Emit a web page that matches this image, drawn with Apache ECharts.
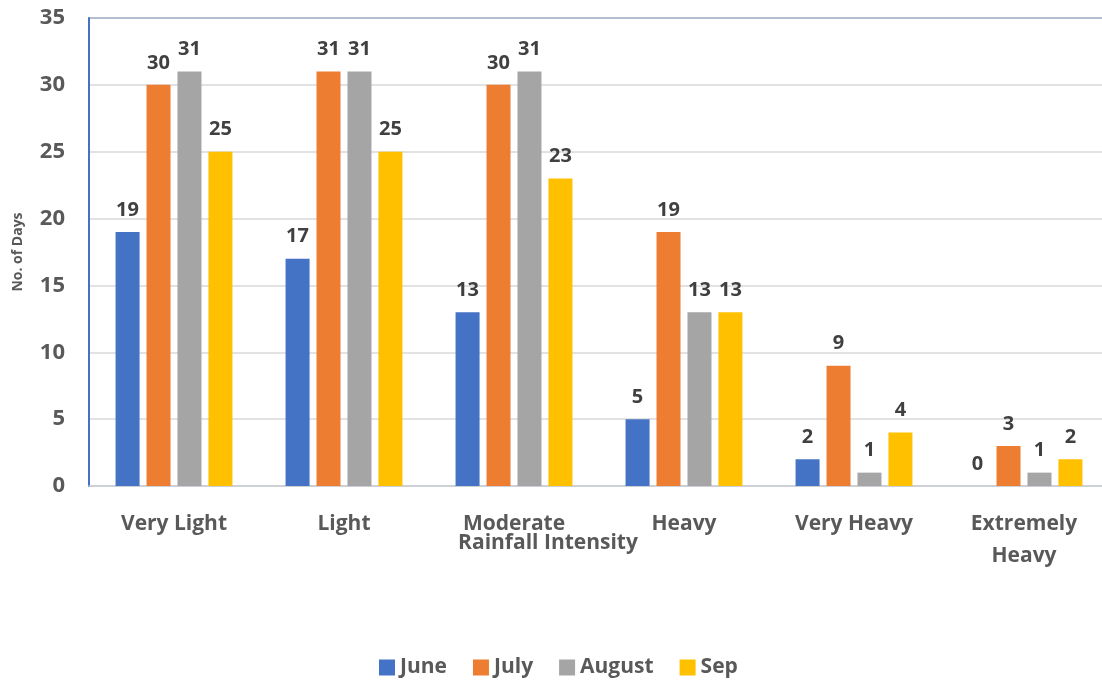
<!DOCTYPE html>
<html>
<head>
<meta charset="utf-8">
<script src="https://cdn.jsdelivr.net/npm/echarts@6/dist/echarts.min.js"></script>
<style>
  html, body { margin: 0; padding: 0; background: #fff; overflow: hidden; }
  #main { width: 1120px; height: 681px; }
</style>
</head>
<body>
<div id="main"></div>
<script>
// rainfall intensity classes
const categories = ['Very Light', 'Light', 'Moderate', 'Heavy', 'Very Heavy', 'Extremely\nHeavy'];
const june = [19, 17, 13, 5, 2, 0];
const july = [30, 31, 30, 19, 9, 3];
const august = [31, 31, 31, 13, 1, 1];
const sep = [25, 25, 23, 13, 4, 2];

const FONT = '"Open Sans", sans-serif';
const chart = echarts.init(document.getElementById('main'));

function makeSeries(name, data, color) {
  return {
    name: name,
    type: 'bar',
    data: data,
    barWidth: 24,
    barGap: '29%',
    itemStyle: { color: color },
    label: {
      show: true,
      position: 'top',
      distance: 12,
      color: '#404040',
      fontFamily: FONT,
      fontWeight: 'bold',
      fontSize: 20
    }
  };
}

const option = {
  animation: false,
  grid: { left: 89, top: 18, width: 1020, height: 468, containLabel: false, outerBoundsMode: 'none' },
  legend: {
    bottom: -2,
    left: 374,
    itemWidth: 16,
    itemHeight: 16,
    itemGap: 26,
    icon: 'rect',
    textStyle: { color: '#595959', fontFamily: FONT, fontWeight: 'bold', fontSize: 21 },
    data: ['June', 'July', 'August', 'Sep']
  },
  xAxis: {
    type: 'category',
    data: categories,
    axisLine: { lineStyle: { color: '#c6cbd4', width: 1.5 } },
    axisTick: { show: false },
    axisLabel: {
      color: '#595959',
      fontFamily: FONT,
      fontWeight: 'bold',
      fontSize: 21,
      margin: 22,
      lineHeight: 32
    }
  },
  yAxis: {
    type: 'value',
    min: 0,
    max: 35,
    interval: 5,
    name: 'No. of Days',
    nameLocation: 'middle',
    nameGap: 64,
    nameTextStyle: { color: '#595959', fontFamily: FONT, fontWeight: 'bold', fontSize: 14 },
    axisLine: { show: true, lineStyle: { color: '#4472c4', width: 2 } },
    axisTick: { show: false },
    axisLabel: {
      color: '#595959',
      fontFamily: FONT,
      fontWeight: 'bold',
      fontSize: 22,
      margin: 24
    },
    splitLine: { lineStyle: { color: '#d9d9d9', width: 1.5 } }
  },
  graphic: [
    {
      type: 'line',
      shape: { x1: 89, y1: 18, x2: 1120, y2: 18 },
      style: { stroke: '#4472c4', lineWidth: 2 }
    },
    {
      type: 'text',
      x: 548,
      y: 543,
      style: {
        text: 'Rainfall Intensity',
        fill: '#595959',
        font: 'bold 21px ' + FONT,
        textAlign: 'center',
        textVerticalAlign: 'middle'
      }
    }
  ],
  series: [
    makeSeries('June', june, '#4472c4'),
    makeSeries('July', july, '#ed7d31'),
    makeSeries('August', august, '#a5a5a5'),
    makeSeries('Sep', sep, '#ffc000')
  ]
};

chart.setOption(option);
</script>
</body>
</html>
